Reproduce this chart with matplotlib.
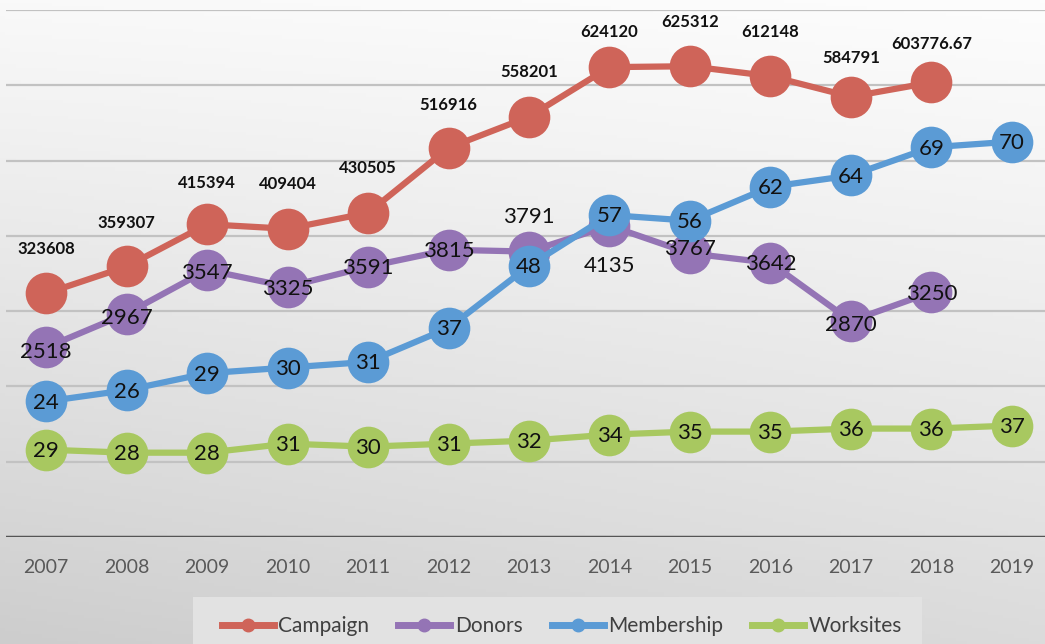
import numpy as np
import matplotlib
matplotlib.use("Agg")
import matplotlib.pyplot as plt
from matplotlib.lines import Line2D
from matplotlib.patches import Rectangle

# data
years = ["2007", "2008", "2009", "2010", "2011", "2012", "2013",
         "2014", "2015", "2016", "2017", "2018", "2019"]
campaign = [323608, 359307, 415394, 409404, 430505, 516916, 558201,
            624120, 625312, 612148, 584791, 603776.67]
campaign_labels = ["323608", "359307", "415394", "409404", "430505", "516916",
                   "558201", "624120", "625312", "612148", "584791", "603776.67"]
donors = [2518, 2967, 3547, 3325, 3591, 3815, 3791, 4135, 3767, 3642, 2870, 3250]
membership = [24, 26, 29, 30, 31, 37, 48, 57, 56, 62, 64, 69, 70]
worksites = [29, 28, 28, 31, 30, 31, 32, 34, 35, 35, 36, 36, 37]

# label placement (points)
campaign_dy = [32, 31, 30, 32, 32, 31, 32, 25, 32, 32, 28, 28]
donors_dy = [-3, -3, -2, -2, -1, -1, 25, -29, 3, -1, -3, -1]

RED = "#CF6459"
PURPLE = "#9474B5"
BLUE = "#5B9BD5"
GREEN = "#A8C860"

plt.rcParams["font.family"] = ["Lato", "DejaVu Sans"]

W, H = 1045, 644
fig = plt.figure(figsize=(W / 100, H / 100), dpi=100)

# background gradient
bg = fig.add_axes([0, 0, 1, 1], zorder=-10)
yy, xx = np.mgrid[0:1:200j, 0:1:200j]
grad = 249 - 26 * yy - 14 * yy * (1 - xx) + 4 * xx * (1 - yy) - 4 * yy * yy
bg.imshow(np.dstack([grad, grad, grad]).clip(0, 255).astype(np.uint8),
          aspect="auto", extent=[0, 1, 0, 1], origin="upper")
bg.set_axis_off()

left, right = 6 / W, 1052 / W
bottom, top = 1 - 537 / H, 1 - 10 / H
rect = [left, bottom, right - left, top - bottom]

x_all = np.arange(len(years))


def make_ax(z):
    a = fig.add_axes(rect, zorder=z)
    a.set_facecolor("none")
    a.set_xlim(-0.5, len(years) - 0.5)
    for s in a.spines.values():
        s.set_visible(False)
    a.set_yticks([])
    a.set_xticks([])
    return a


ax = make_ax(1)
ax.set_ylim(0, 700000)
for g in range(100000, 700001, 100000):
    ax.axhline(g, color="#C2C2C2", lw=1.6, zorder=0)
ax.axhline(0, color="#555555", lw=2.5, zorder=0)
ax.set_xticks(x_all)
ax.set_xticklabels(years, fontsize=14, color="#595959")
ax.tick_params(axis="x", length=0, pad=16)

series = [
    (campaign, RED, (0, 700000), 2),
    (donors, PURPLE, (0, 7000), 3),
    (membership, BLUE, (0, 93.3), 4),
    (worksites, GREEN, (0, 175), 5),
]
axes = []
for vals, col, lim, z in series:
    a = ax if z == 2 else make_ax(z)
    a.set_ylim(*lim)
    a.plot(x_all[:len(vals)], vals, color=col, lw=4.5, marker="o",
           markersize=30, markeredgewidth=0, zorder=3, solid_capstyle="round")
    axes.append(a)

# labels on top of everything
lab = make_ax(10)
lab.set_ylim(0, 1)
for i, (v, t) in enumerate(zip(campaign, campaign_labels)):
    lab.annotate(t, xy=(i, v), xycoords=axes[0].transData,
                 xytext=(0, campaign_dy[i]), textcoords="offset points",
                 ha="center", va="center", fontsize=12, fontweight="bold",
                 color="#111111")
for i, v in enumerate(donors):
    lab.annotate(str(v), xy=(i, v), xycoords=axes[1].transData,
                 xytext=(0, donors_dy[i]), textcoords="offset points",
                 ha="center", va="center", fontsize=16, color="#111111")
for i, v in enumerate(membership):
    lab.annotate(str(v), xy=(i, v), xycoords=axes[2].transData,
                 xytext=(0, -1), textcoords="offset points",
                 ha="center", va="center", fontsize=16, color="#111111")
for i, v in enumerate(worksites):
    lab.annotate(str(v), xy=(i, v), xycoords=axes[3].transData,
                 xytext=(0, -1), textcoords="offset points",
                 ha="center", va="center", fontsize=16, color="#111111")

# legend box and entries
fig.patches.append(Rectangle((193 / W, 0), (922 - 193) / W, (644 - 597) / H,
                             transform=fig.transFigure, facecolor="#E2E2E2",
                             edgecolor="none", zorder=15))
handles = [Line2D([], [], color=c, lw=5, marker="o", markersize=9)
           for c in (RED, PURPLE, BLUE, GREEN)]
leg = fig.legend(handles, ["Campaign", "Donors", "Membership", "Worksites"],
                 ncol=4, loc="center left", bbox_to_anchor=(222 / W, 1 - 626 / H),
                 frameon=False, fontsize=15, handlelength=2.5,
                 handletextpad=0.2, columnspacing=1.4, borderpad=0,
                 borderaxespad=0, labelcolor="#404040")
leg.set_zorder(20)

fig.savefig("out.png", dpi=100)
